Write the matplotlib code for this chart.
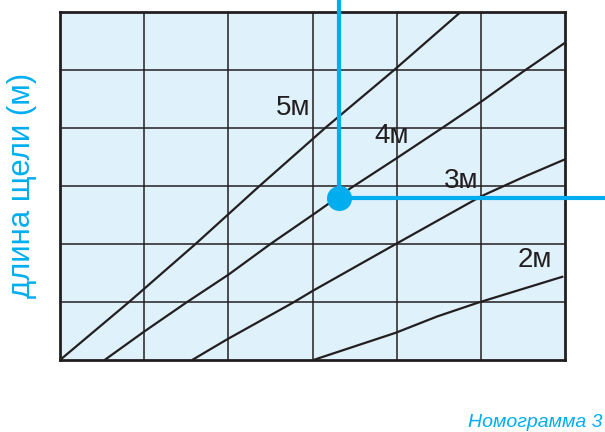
import matplotlib.pyplot as plt
import numpy as np

# nomogram grid: 6 x 6 cells
n_cols = 6
n_rows = 6

# curves (x in cells, y in cells)
curve_labels = ["5м", "4м", "3м", "2м"]
line_5m_x = [0, 0.82, 1.61, 2.37, 3.15, 3.97, 4.76]
line_5m_y = [0, 1, 2, 3, 4, 5, 6]
line_4m_x = [0.53, 1.0, 1.5, 2.0, 2.5, 3.03, 3.45, 3.99, 4.54, 5.03, 5.5, 6.0]
line_4m_y = [0, 0.49, 0.99, 1.47, 2.0, 2.53, 2.96, 3.47, 4.0, 4.48, 4.97, 5.47]
line_3m_x = [1.57, 1.99, 2.77, 3.0, 3.99, 5.0, 5.5, 6.0]
line_3m_y = [0, 0.36, 0.99, 1.19, 2.0, 2.82, 3.15, 3.46]
line_2m_x = [3.01, 3.99, 4.48, 4.97, 5.98]
line_2m_y = [0, 0.47, 0.75, 0.99, 1.44]

# where each label sits
label_x = [2.77, 3.94, 4.77, 5.64]
label_y = [4.34, 3.86, 3.09, 1.72]

# the worked example point
point_x = 3.315
point_y = 2.79

ylabel = "длина щели (м)"
caption = "Номограмма 3"

cyan = "#00aeef"
ink = "#231f20"
bg = "#dff1fb"
fonts = ["Liberation Sans", "DejaVu Sans"]

fig = plt.figure(figsize=(6.05, 4.32), dpi=100)
ax = fig.add_axes([60 / 605, 1 - 360 / 432, 505 / 605, 348 / 432])
ax.set_facecolor(bg)
ax.set_xlim(0, n_cols)
ax.set_ylim(0, n_rows)

# grid
for i in range(1, n_cols):
    ax.axvline(i, color=ink, lw=1.1, zorder=1)
for j in range(1, n_rows):
    ax.axhline(j, color=ink, lw=1.1, zorder=1)
for s in ax.spines.values():
    s.set_linewidth(2.0)
    s.set_color(ink)
ax.set_xticks([])
ax.set_yticks([])

xs = [line_5m_x, line_4m_x, line_3m_x, line_2m_x]
ys = [line_5m_y, line_4m_y, line_3m_y, line_2m_y]
for x, y in zip(xs, ys):
    ax.plot(x, y, color=ink, lw=1.6, zorder=2, solid_capstyle="butt")

for lab, lx, ly in zip(curve_labels, label_x, label_y):
    ax.text(lx, ly, lab, ha="center", va="center", fontsize=20,
            color=ink, family=fonts, zorder=3)

# cyan guide: from the top edge down to the point, then out to the right edge
fig_to_ax = fig.transFigure + ax.transAxes.inverted()
right_ax, top_ax = fig_to_ax.transform((1, 1))
px_ax, py_ax = ax.transLimits.transform((point_x, point_y))
ax.plot([px_ax, px_ax], [top_ax, py_ax], transform=ax.transAxes,
        color=cyan, lw=3.0, clip_on=False, zorder=4, solid_capstyle="butt")
ax.plot([px_ax, right_ax], [py_ax, py_ax], transform=ax.transAxes,
        color=cyan, lw=3.0, clip_on=False, zorder=4, solid_capstyle="butt")
ax.plot(point_x, point_y, "o", color=cyan, ms=17, zorder=5, clip_on=False)

ax.text(-0.075, 0.503, ylabel, transform=ax.transAxes, rotation=90,
        ha="center", va="center", fontsize=22.5, color=cyan, family=fonts)

fig.text(602 / 605, 1 - 427 / 432, caption, ha="right", va="baseline",
         fontsize=14, color=cyan, style="italic", family=fonts)

plt.savefig("out.png", dpi=100)
